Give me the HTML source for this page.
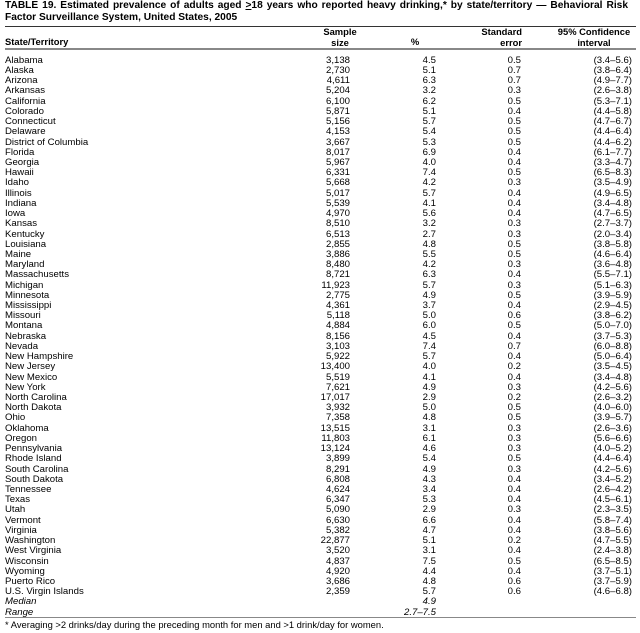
<!DOCTYPE html>
<html><head><meta charset="utf-8">
<style>
html,body{margin:0;padding:0;background:#fff;}
body{width:640px;height:633px;position:relative;overflow:hidden;font-family:"Liberation Sans",Arial,sans-serif;color:#000;}
.title{position:absolute;left:5px;top:0px;width:623px;font-weight:bold;font-size:10.2px;line-height:11.8px;text-align:justify;}
.rule1{position:absolute;left:5px;width:631px;top:25.5px;height:1.5px;background:#333;}
.rule2{position:absolute;left:5px;width:631px;top:48px;height:2px;background:#888;}
.rule3{position:absolute;left:5px;width:631px;top:616.5px;height:1.5px;background:#888;}
.h{position:absolute;font-weight:bold;font-size:9.4px;line-height:10.5px;}
.rows{position:absolute;left:0;top:55.8px;width:640px;}
.r{height:10.225px;line-height:10.2px;font-size:9.6px;position:relative;white-space:nowrap;}
.r span{position:absolute;top:0;}
.n{left:5px;}
.s{right:290px;}
.p{right:204px;}
.e{right:119px;}
.c{right:8px;}
.i{font-style:italic;}
.foot{position:absolute;left:5px;top:619.5px;font-size:9.4px;line-height:10px;white-space:nowrap;}
</style></head><body>
<div class="title">TABLE 19. Estimated prevalence of adults aged <u>&gt;</u>18 years who reported heavy drinking,* by state/territory — Behavioral Risk Factor Surveillance System, United States, 2005</div>
<div class="rule1"></div>
<div class="h" style="left:5px;top:37px;">State/Territory</div>
<div class="h" style="left:310px;width:60px;text-align:center;top:27px;">Sample<br>size</div>
<div class="h" style="left:403px;width:24px;text-align:center;top:37px;">%</div>
<div class="h" style="right:118px;text-align:right;top:27px;">Standard</div>
<div class="h" style="right:118px;text-align:right;top:37.5px;">error</div>
<div class="h" style="left:548px;width:92px;text-align:center;top:27px;">95% Confidence<br>interval</div>
<div class="rule2"></div>
<div class="rows">
<div class="r"><span class="n">Alabama</span><span class="s">3,138</span><span class="p">4.5</span><span class="e">0.5</span><span class="c">(3.4–5.6)</span></div>
<div class="r"><span class="n">Alaska</span><span class="s">2,730</span><span class="p">5.1</span><span class="e">0.7</span><span class="c">(3.8–6.4)</span></div>
<div class="r"><span class="n">Arizona</span><span class="s">4,611</span><span class="p">6.3</span><span class="e">0.7</span><span class="c">(4.9–7.7)</span></div>
<div class="r"><span class="n">Arkansas</span><span class="s">5,204</span><span class="p">3.2</span><span class="e">0.3</span><span class="c">(2.6–3.8)</span></div>
<div class="r"><span class="n">California</span><span class="s">6,100</span><span class="p">6.2</span><span class="e">0.5</span><span class="c">(5.3–7.1)</span></div>
<div class="r"><span class="n">Colorado</span><span class="s">5,871</span><span class="p">5.1</span><span class="e">0.4</span><span class="c">(4.4–5.8)</span></div>
<div class="r"><span class="n">Connecticut</span><span class="s">5,156</span><span class="p">5.7</span><span class="e">0.5</span><span class="c">(4.7–6.7)</span></div>
<div class="r"><span class="n">Delaware</span><span class="s">4,153</span><span class="p">5.4</span><span class="e">0.5</span><span class="c">(4.4–6.4)</span></div>
<div class="r"><span class="n">District of Columbia</span><span class="s">3,667</span><span class="p">5.3</span><span class="e">0.5</span><span class="c">(4.4–6.2)</span></div>
<div class="r"><span class="n">Florida</span><span class="s">8,017</span><span class="p">6.9</span><span class="e">0.4</span><span class="c">(6.1–7.7)</span></div>
<div class="r"><span class="n">Georgia</span><span class="s">5,967</span><span class="p">4.0</span><span class="e">0.4</span><span class="c">(3.3–4.7)</span></div>
<div class="r"><span class="n">Hawaii</span><span class="s">6,331</span><span class="p">7.4</span><span class="e">0.5</span><span class="c">(6.5–8.3)</span></div>
<div class="r"><span class="n">Idaho</span><span class="s">5,668</span><span class="p">4.2</span><span class="e">0.3</span><span class="c">(3.5–4.9)</span></div>
<div class="r"><span class="n">Illinois</span><span class="s">5,017</span><span class="p">5.7</span><span class="e">0.4</span><span class="c">(4.9–6.5)</span></div>
<div class="r"><span class="n">Indiana</span><span class="s">5,539</span><span class="p">4.1</span><span class="e">0.4</span><span class="c">(3.4–4.8)</span></div>
<div class="r"><span class="n">Iowa</span><span class="s">4,970</span><span class="p">5.6</span><span class="e">0.4</span><span class="c">(4.7–6.5)</span></div>
<div class="r"><span class="n">Kansas</span><span class="s">8,510</span><span class="p">3.2</span><span class="e">0.3</span><span class="c">(2.7–3.7)</span></div>
<div class="r"><span class="n">Kentucky</span><span class="s">6,513</span><span class="p">2.7</span><span class="e">0.3</span><span class="c">(2.0–3.4)</span></div>
<div class="r"><span class="n">Louisiana</span><span class="s">2,855</span><span class="p">4.8</span><span class="e">0.5</span><span class="c">(3.8–5.8)</span></div>
<div class="r"><span class="n">Maine</span><span class="s">3,886</span><span class="p">5.5</span><span class="e">0.5</span><span class="c">(4.6–6.4)</span></div>
<div class="r"><span class="n">Maryland</span><span class="s">8,480</span><span class="p">4.2</span><span class="e">0.3</span><span class="c">(3.6–4.8)</span></div>
<div class="r"><span class="n">Massachusetts</span><span class="s">8,721</span><span class="p">6.3</span><span class="e">0.4</span><span class="c">(5.5–7.1)</span></div>
<div class="r"><span class="n">Michigan</span><span class="s">11,923</span><span class="p">5.7</span><span class="e">0.3</span><span class="c">(5.1–6.3)</span></div>
<div class="r"><span class="n">Minnesota</span><span class="s">2,775</span><span class="p">4.9</span><span class="e">0.5</span><span class="c">(3.9–5.9)</span></div>
<div class="r"><span class="n">Mississippi</span><span class="s">4,361</span><span class="p">3.7</span><span class="e">0.4</span><span class="c">(2.9–4.5)</span></div>
<div class="r"><span class="n">Missouri</span><span class="s">5,118</span><span class="p">5.0</span><span class="e">0.6</span><span class="c">(3.8–6.2)</span></div>
<div class="r"><span class="n">Montana</span><span class="s">4,884</span><span class="p">6.0</span><span class="e">0.5</span><span class="c">(5.0–7.0)</span></div>
<div class="r"><span class="n">Nebraska</span><span class="s">8,156</span><span class="p">4.5</span><span class="e">0.4</span><span class="c">(3.7–5.3)</span></div>
<div class="r"><span class="n">Nevada</span><span class="s">3,103</span><span class="p">7.4</span><span class="e">0.7</span><span class="c">(6.0–8.8)</span></div>
<div class="r"><span class="n">New Hampshire</span><span class="s">5,922</span><span class="p">5.7</span><span class="e">0.4</span><span class="c">(5.0–6.4)</span></div>
<div class="r"><span class="n">New Jersey</span><span class="s">13,400</span><span class="p">4.0</span><span class="e">0.2</span><span class="c">(3.5–4.5)</span></div>
<div class="r"><span class="n">New Mexico</span><span class="s">5,519</span><span class="p">4.1</span><span class="e">0.4</span><span class="c">(3.4–4.8)</span></div>
<div class="r"><span class="n">New York</span><span class="s">7,621</span><span class="p">4.9</span><span class="e">0.3</span><span class="c">(4.2–5.6)</span></div>
<div class="r"><span class="n">North Carolina</span><span class="s">17,017</span><span class="p">2.9</span><span class="e">0.2</span><span class="c">(2.6–3.2)</span></div>
<div class="r"><span class="n">North Dakota</span><span class="s">3,932</span><span class="p">5.0</span><span class="e">0.5</span><span class="c">(4.0–6.0)</span></div>
<div class="r"><span class="n">Ohio</span><span class="s">7,358</span><span class="p">4.8</span><span class="e">0.5</span><span class="c">(3.9–5.7)</span></div>
<div class="r"><span class="n">Oklahoma</span><span class="s">13,515</span><span class="p">3.1</span><span class="e">0.3</span><span class="c">(2.6–3.6)</span></div>
<div class="r"><span class="n">Oregon</span><span class="s">11,803</span><span class="p">6.1</span><span class="e">0.3</span><span class="c">(5.6–6.6)</span></div>
<div class="r"><span class="n">Pennsylvania</span><span class="s">13,124</span><span class="p">4.6</span><span class="e">0.3</span><span class="c">(4.0–5.2)</span></div>
<div class="r"><span class="n">Rhode Island</span><span class="s">3,899</span><span class="p">5.4</span><span class="e">0.5</span><span class="c">(4.4–6.4)</span></div>
<div class="r"><span class="n">South Carolina</span><span class="s">8,291</span><span class="p">4.9</span><span class="e">0.3</span><span class="c">(4.2–5.6)</span></div>
<div class="r"><span class="n">South Dakota</span><span class="s">6,808</span><span class="p">4.3</span><span class="e">0.4</span><span class="c">(3.4–5.2)</span></div>
<div class="r"><span class="n">Tennessee</span><span class="s">4,624</span><span class="p">3.4</span><span class="e">0.4</span><span class="c">(2.6–4.2)</span></div>
<div class="r"><span class="n">Texas</span><span class="s">6,347</span><span class="p">5.3</span><span class="e">0.4</span><span class="c">(4.5–6.1)</span></div>
<div class="r"><span class="n">Utah</span><span class="s">5,090</span><span class="p">2.9</span><span class="e">0.3</span><span class="c">(2.3–3.5)</span></div>
<div class="r"><span class="n">Vermont</span><span class="s">6,630</span><span class="p">6.6</span><span class="e">0.4</span><span class="c">(5.8–7.4)</span></div>
<div class="r"><span class="n">Virginia</span><span class="s">5,382</span><span class="p">4.7</span><span class="e">0.4</span><span class="c">(3.8–5.6)</span></div>
<div class="r"><span class="n">Washington</span><span class="s">22,877</span><span class="p">5.1</span><span class="e">0.2</span><span class="c">(4.7–5.5)</span></div>
<div class="r"><span class="n">West Virginia</span><span class="s">3,520</span><span class="p">3.1</span><span class="e">0.4</span><span class="c">(2.4–3.8)</span></div>
<div class="r"><span class="n">Wisconsin</span><span class="s">4,837</span><span class="p">7.5</span><span class="e">0.5</span><span class="c">(6.5–8.5)</span></div>
<div class="r"><span class="n">Wyoming</span><span class="s">4,920</span><span class="p">4.4</span><span class="e">0.4</span><span class="c">(3.7–5.1)</span></div>
<div class="r"><span class="n">Puerto Rico</span><span class="s">3,686</span><span class="p">4.8</span><span class="e">0.6</span><span class="c">(3.7–5.9)</span></div>
<div class="r"><span class="n">U.S. Virgin Islands</span><span class="s">2,359</span><span class="p">5.7</span><span class="e">0.6</span><span class="c">(4.6–6.8)</span></div>
<div class="r i"><span class="n">Median</span><span class="p">4.9</span></div>
<div class="r i"><span class="n">Range</span><span class="p">2.7–7.5</span></div>
</div>
<div class="rule3"></div>
<div class="foot">* Averaging &gt;2 drinks/day during the preceding month for men and &gt;1 drink/day for women.</div>
</body></html>
